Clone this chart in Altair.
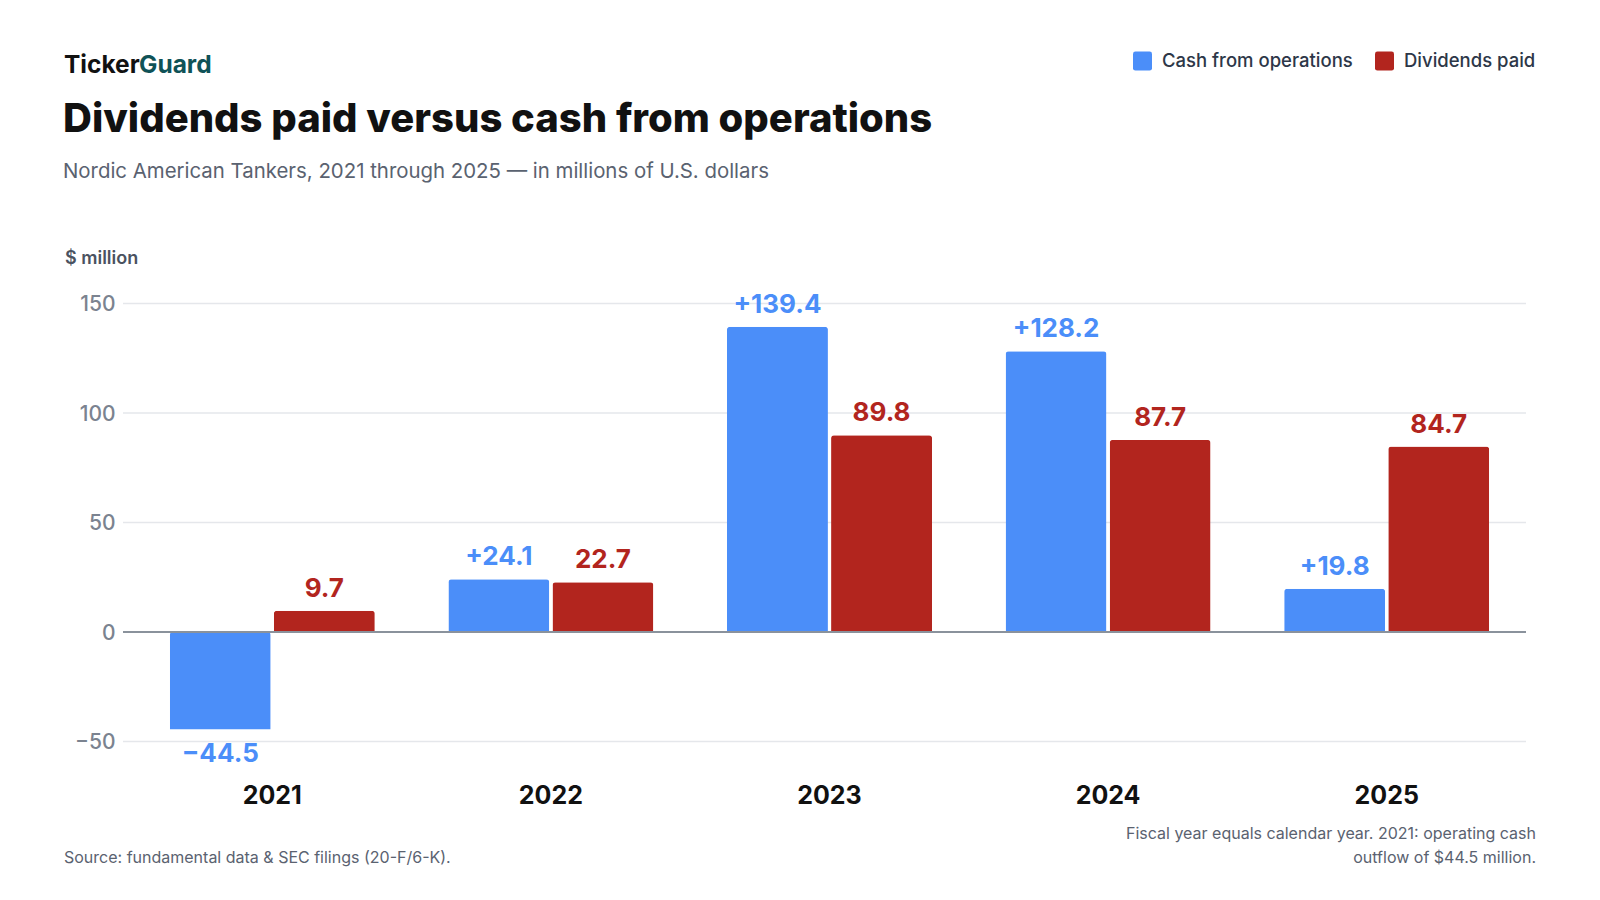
import altair as alt
import pandas as pd

# values ($ million)
years = ["2021", "2022", "2023", "2024", "2025"]
cash_ops = [-44.5, 24.1, 139.4, 128.2, 19.8]
dividends = [9.7, 22.7, 89.8, 87.7, 84.7]
series = ["Cash from operations", "Dividends paid"]
colors = ["#4b8ef9", "#b2251e"]
y_ticks = [-50, 0, 50, 100, 150]

FONT = "Inter"
W, H = 1393, 460
ROUNDED_SQUARE = ("M-0.75,-1H0.75Q1,-1 1,-0.75V0.75Q1,1 0.75,1H-0.75Q-1,1 -1,0.75"
                  "V-0.75Q-1,-1 -0.75,-1Z")

rows = []
for i, yr in enumerate(years):
    c = cash_ops[i]
    rows.append({"year": yr, "series": series[0], "value": c,
                 "label": ("+" if c >= 0 else "\u2212") + f"{abs(c):.1f}"})
    rows.append({"year": yr, "series": series[1], "value": dividends[i],
                 "label": f"{dividends[i]:.1f}"})
df = pd.DataFrame(rows)

y_scale = alt.Scale(domain=[-60, 150], nice=False, zero=False)

x = alt.X("year:N", title=None, sort=years,
          scale=alt.Scale(paddingInner=0.264, paddingOuter=0.132),
          axis=alt.Axis(labelFontSize=25, labelFontWeight="bold", labelColor="#111111",
                        labelPadding=20, domain=False, ticks=False, labelAngle=0))
y = alt.Y("value:Q", title=None, scale=y_scale,
          axis=alt.Axis(values=y_ticks, grid=False, domain=False, ticks=False,
                        labelFontSize=21, labelFontWeight=500, labelColor="#7b8390",
                        labelPadding=18, labelBaseline="middle", labelOffset=1))
xoff = alt.XOffset("series:N", sort=series, scale=alt.Scale(paddingInner=0.03))
color = alt.Color("series:N", sort=series,
                  scale=alt.Scale(domain=series, range=colors),
                  legend=alt.Legend(title=None, orient="none", direction="horizontal",
                                    legendX=1000, legendY=-252, symbolType=ROUNDED_SQUARE,
                                    symbolSize=361, symbolStrokeWidth=0, symbolOpacity=1,
                                    labelFontSize=18.5, labelFontWeight=500, labelColor="#2d3748",
                                    labelOffset=10, columnPadding=22, padding=0, labelLimit=400))

grid = alt.Chart(pd.DataFrame({"v": [t for t in y_ticks if t != 0]})).mark_rule(
    color="#e5e7eb", strokeWidth=1.5
).encode(y=alt.Y("v:Q", scale=y_scale), x=alt.value(-10), x2=alt.value(W))

base = alt.Chart(df)

bars = base.mark_bar(cornerRadiusEnd=3).encode(x=x, y=y, xOffset=xoff, color=color)

label_color = alt.Color("series:N", scale=alt.Scale(domain=series, range=colors), legend=None)

pos_labels = base.transform_filter("datum.value >= 0").mark_text(
    baseline="bottom", dy=-9, fontSize=26, fontWeight="bold", font=FONT
).encode(x=x, y=y, xOffset=xoff, text="label:N", color=label_color)

neg_labels = base.transform_filter("datum.value < 0").mark_text(
    baseline="top", dy=11, fontSize=26, fontWeight="bold", font=FONT
).encode(x=x, y=y, xOffset=xoff, text="label:N", color=label_color)

zero = alt.Chart(pd.DataFrame({"v": [0]})).mark_rule(color="#8a929c", strokeWidth=2).encode(
    y=alt.Y("v:Q", scale=y_scale), x=alt.value(-10), x2=alt.value(W))


def note(text, px, py, size, color_, weight="normal", align="left"):
    return alt.Chart(pd.DataFrame({"t": [text]})).mark_text(
        align=align, baseline="alphabetic", fontSize=size, fontWeight=weight,
        color=color_, font=FONT
    ).encode(x=alt.value(px), y=alt.value(py), text="t:N")


texts = [
    note("Ticker", -69, -231, 24.5, "#111111", "bold"),
    note("Guard", 6, -231, 24.5, "#0f5257", "bold"),
    note("Dividends paid versus cash from operations", -70, -172, 40, "#111111", 800),
    note("Nordic American Tankers, 2021 through 2025 \u2014 in millions of U.S. dollars",
         -70, -126, 20.4, "#5a6270"),
    note("$ million", -68, -40, 18, "#4a5260", 600),
    note("Source: fundamental data & SEC filings (20-F/6-K).", -69, 559, 16, "#5a6270"),
    note("Fiscal year equals calendar year. 2021: operating cash", 1403, 535, 16, "#5a6270",
         align="right"),
    note("outflow of $44.5 million.", 1403, 559, 16, "#5a6270", align="right"),
]

chart = alt.layer(grid, bars, zero, pos_labels, neg_labels, *texts).resolve_scale(
    color="independent"
).properties(
    width=W, height=H,
    autosize=alt.AutoSizeParams(type="none"),
    padding={"left": 125, "top": 295.5, "right": 66, "bottom": 128},
    background="white",
).configure(font=FONT).configure_view(strokeWidth=0, stroke="transparent")

chart.save("out.html", embed_options={"renderer": "svg", "actions": False})
